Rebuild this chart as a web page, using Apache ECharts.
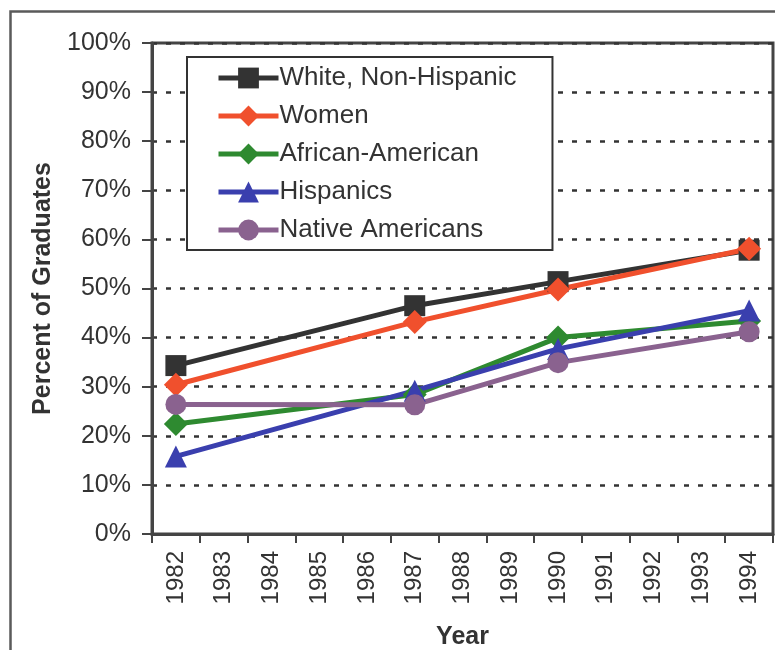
<!DOCTYPE html>
<html>
<head>
<meta charset="utf-8">
<script src="https://cdn.jsdelivr.net/npm/echarts@6/dist/echarts.min.js"></script>
<style>
  html, body { margin: 0; padding: 0; background: #ffffff; }
  #chart { width: 775px; height: 650px; }
</style>
</head>
<body>
<div id="chart"></div>
<script>
// Year categories along the x axis
const years = ['1982','1983','1984','1985','1986','1987','1988','1989','1990','1991','1992','1993','1994'];

// Percent of graduates per group (null = no survey that year)
const white    = [34.3, null, null, null, null, 46.5, null, null, 51.4, null, null, null, 57.8];
const women    = [30.4, null, null, null, null, 43.2, null, null, 49.8, null, null, null, 58.1];
const african  = [22.4, null, null, null, null, 28.4, null, null, 40.0, null, null, null, 43.4];
const hispanic = [15.8, null, null, null, null, 29.2, null, null, 37.7, null, null, null, 45.5];
const native   = [26.4, null, null, null, null, 26.3, null, null, 34.9, null, null, null, 41.2];

const yTicks = [0, 10, 20, 30, 40, 50, 60, 70, 80, 90, 100];

const FONT = 'Arial, "Liberation Sans", Helvetica, sans-serif';
const TEXT = '#333333';

function line(name, data, color, symbol, size) {
  return {
    name: name,
    type: 'line',
    data: data,
    connectNulls: true,
    symbol: symbol,
    symbolSize: size,
    lineStyle: { color: color, width: 5 },
    itemStyle: { color: color },
    emphasis: { disabled: true },
    z: 3
  };
}

const chart = echarts.init(document.getElementById('chart'), null, { renderer: 'canvas' });
chart.setOption({
  animation: false,
  backgroundColor: '#ffffff',
  graphic: [{
    type: 'rect',
    left: 8, top: 9,
    shape: { width: 800, height: 700 },
    style: { fill: 'none', stroke: '#5a5a5a', lineWidth: 2.5 },
    silent: true
  }],
  grid: {
    left: 152, right: 2, top: 43, bottom: 116,
    outerBoundsMode: 'none',
    containLabel: false,
    show: true, borderColor: '#444444', borderWidth: 3
  },
  legend: {
    orient: 'vertical',
    left: 187, top: 57,
    padding: [8, 36, 7, 29],
    itemWidth: 60, itemHeight: 26, itemGap: 12,
    backgroundColor: '#ffffff',
    borderColor: '#333333', borderWidth: 2,
    lineStyle: { width: 5 },
    textStyle: { fontFamily: FONT, fontSize: 26, color: TEXT, padding: [0, 0, 0, -4] },
    data: ['White, Non-Hispanic', 'Women', 'African-American', 'Hispanics', 'Native Americans']
  },
  xAxis: {
    type: 'category',
    data: years,
    boundaryGap: true,
    name: 'Year',
    nameLocation: 'middle',
    nameGap: 91,
    nameTextStyle: { fontFamily: FONT, fontSize: 25, fontWeight: 'bold', color: TEXT },
    axisLine: { lineStyle: { color: '#444444', width: 3 } },
    axisTick: { show: true, alignWithLabel: false, length: 9, lineStyle: { color: '#444444', width: 2 } },
    axisLabel: { rotate: 90, margin: 17, fontFamily: FONT, fontSize: 24, color: TEXT },
    splitLine: { show: false }
  },
  yAxis: {
    type: 'value',
    min: yTicks[0], max: yTicks[yTicks.length - 1], interval: 10,
    name: 'Percent of Graduates',
    nameLocation: 'middle',
    nameRotate: 90,
    nameGap: 96,
    nameTextStyle: { fontFamily: FONT, fontSize: 25, fontWeight: 'bold', color: TEXT },
    axisLine: { show: true, lineStyle: { color: '#444444', width: 3 } },
    axisTick: { show: true, length: 10, lineStyle: { color: '#444444', width: 2 } },
    axisLabel: { margin: 21, fontFamily: FONT, fontSize: 25, color: TEXT, formatter: '{value}%' },
    splitLine: { show: true, lineStyle: { color: '#333333', width: 2.5, type: [5, 9] } }
  },
  series: [
    line('White, Non-Hispanic', white, '#333333', 'rect', 21),
    line('Women', women, '#f0502d', 'diamond', 24),
    line('African-American', african, '#2e8a30', 'diamond', 24),
    line('Hispanics', hispanic, '#3a3fae', 'triangle', 22),
    line('Native Americans', native, '#8a628f', 'circle', 21)
  ]
});
</script>
</body>
</html>
